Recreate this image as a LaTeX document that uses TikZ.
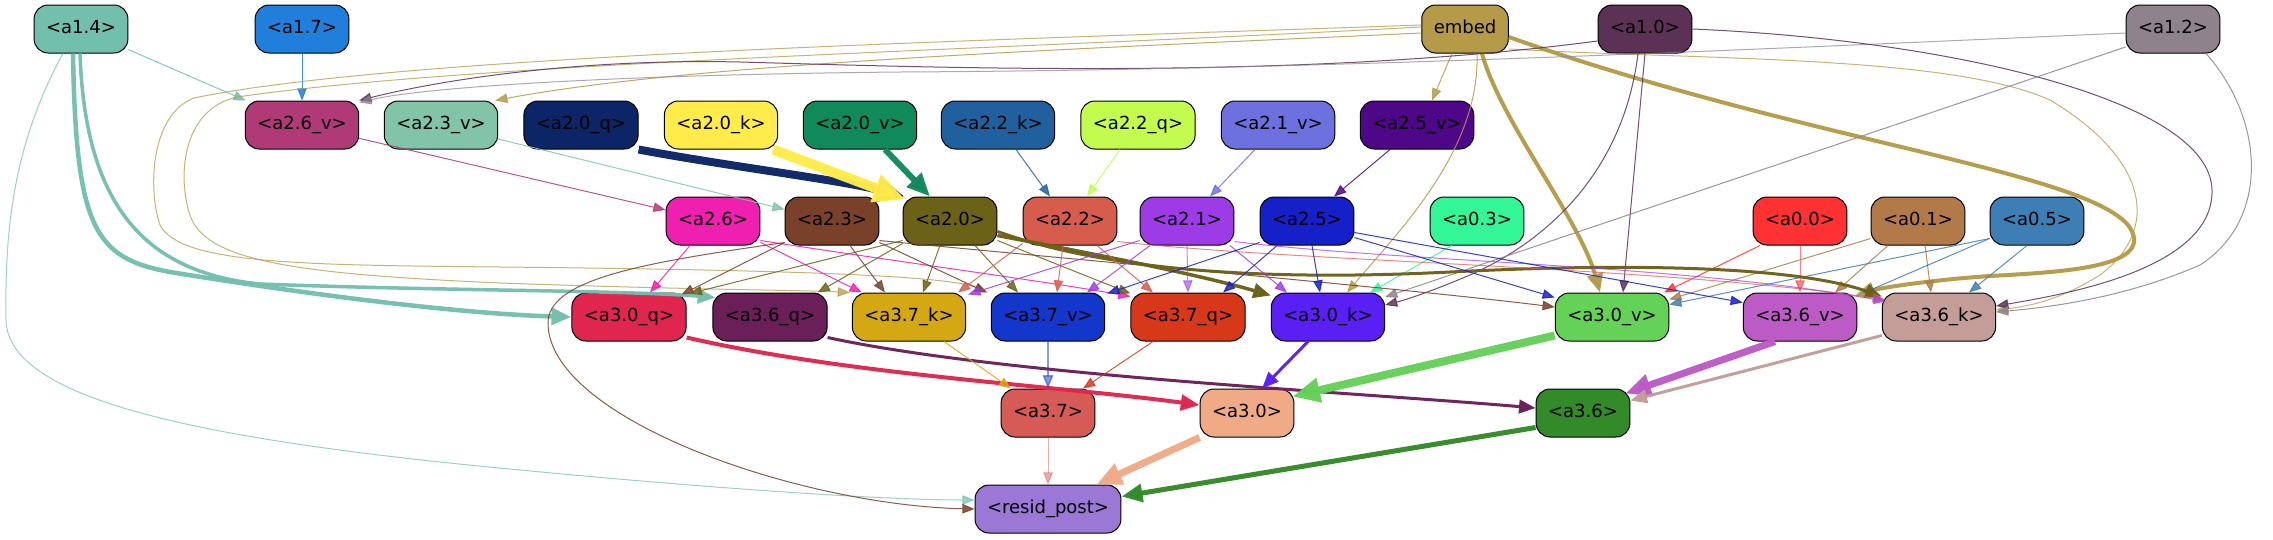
\documentclass[tikz,border=0pt]{standalone}
\usepackage{fontspec}
\setmainfont{DejaVu Sans}
\usetikzlibrary{arrows.meta}
\definecolor{kA14}{HTML}{72BFAE}
\definecolor{kA17}{HTML}{1F7FDA}
\definecolor{kEmb}{HTML}{B59B47}
\definecolor{kA10}{HTML}{5C3156}
\definecolor{kA12}{HTML}{8E828D}
\definecolor{kA26v}{HTML}{B03A77}
\definecolor{kA23v}{HTML}{82C4A8}
\definecolor{kA20q}{HTML}{0C2566}
\definecolor{kA20k}{HTML}{FFEC4A}
\definecolor{kA20v}{HTML}{108A5B}
\definecolor{kA22k}{HTML}{20609F}
\definecolor{kA22q}{HTML}{C3FC4F}
\definecolor{kA21v}{HTML}{6D71E0}
\definecolor{kA25v}{HTML}{4E0787}
\definecolor{kA26}{HTML}{EF1FAF}
\definecolor{kA23}{HTML}{79402A}
\definecolor{kA20}{HTML}{6B6117}
\definecolor{kA22}{HTML}{D65D4C}
\definecolor{kA21}{HTML}{9D3CE6}
\definecolor{kA25}{HTML}{1520C8}
\definecolor{kA03}{HTML}{33F796}
\definecolor{kA00}{HTML}{FE3133}
\definecolor{kA01}{HTML}{B27A49}
\definecolor{kA05}{HTML}{3D7EB5}
\definecolor{kA30q}{HTML}{E0264E}
\definecolor{kA36q}{HTML}{6A1F58}
\definecolor{kA37k}{HTML}{D4A813}
\definecolor{kA37v}{HTML}{1337CA}
\definecolor{kA37q}{HTML}{D7381A}
\definecolor{kA30k}{HTML}{5A1FF2}
\definecolor{kA30v}{HTML}{64D157}
\definecolor{kA36v}{HTML}{BC5AC6}
\definecolor{kA36k}{HTML}{C49C98}
\definecolor{kA37}{HTML}{D65A55}
\definecolor{kA30}{HTML}{F1AA86}
\definecolor{kA36}{HTML}{338A28}
\definecolor{kRes}{HTML}{9C78D6}
\tikzset{
  nd/.style={draw=black, line width=1pt, rounded corners=14pt, minimum height=48pt,
    inner xsep=12pt, inner ysep=0pt, text height=13pt, text depth=4pt,
    font=\fontsize{18}{21}\selectfont},
  ed/.style={line width=1pt, opacity=0.85, -{Triangle[length=10pt 2.2, width=7.5pt 2]}},
  tk/.style={opacity=0.97},
}
\begin{document}
\begin{tikzpicture}[x=1pt,y=-1pt]
\fill[white] (0,0) rectangle (2273,539);
\useasboundingbox (0,0) rectangle (2273,539);
% row 1
\node[nd, fill=kA14] (a14) at (81,29) {<a1.4>};
\node[nd, fill=kA17] (a17) at (302,29) {<a1.7>};
\node[nd, fill=kEmb] (emb) at (1465,29) {embed};
\node[nd, fill=kA10] (a10) at (1645,29) {<a1.0>};
\node[nd, fill=kA12] (a12) at (2173,29) {<a1.2>};
% row 2
\node[nd, fill=kA26v] (a26v) at (302,125) {<a2.6\_v>};
\node[nd, fill=kA23v] (a23v) at (441,125) {<a2.3\_v>};
\node[nd, fill=kA20q] (a20q) at (581,125) {<a2.0\_q>};
\node[nd, fill=kA20k] (a20k) at (721,125) {<a2.0\_k>};
\node[nd, fill=kA20v] (a20v) at (860,125) {<a2.0\_v>};
\node[nd, fill=kA22k] (a22k) at (998,125) {<a2.2\_k>};
\node[nd, fill=kA22q] (a22q) at (1138,125) {<a2.2\_q>};
\node[nd, fill=kA21v] (a21v) at (1278,125) {<a2.1\_v>};
\node[nd, fill=kA25v] (a25v) at (1417,125) {<a2.5\_v>};
% row 3
\node[nd, fill=kA26] (a26) at (713,221) {<a2.6>};
\node[nd, fill=kA23] (a23) at (832,221) {<a2.3>};
\node[nd, fill=kA20] (a20) at (950,221) {<a2.0>};
\node[nd, fill=kA22] (a22) at (1070,221) {<a2.2>};
\node[nd, fill=kA21] (a21) at (1187,221) {<a2.1>};
\node[nd, fill=kA25] (a25) at (1307,221) {<a2.5>};
\node[nd, fill=kA03] (a03) at (1477,221) {<a0.3>};
\node[nd, fill=kA00] (a00) at (1800,221) {<a0.0>};
\node[nd, fill=kA01] (a01) at (1918,221) {<a0.1>};
\node[nd, fill=kA05] (a05) at (2037,221) {<a0.5>};
% row 4
\node[nd, fill=kA30q] (a30q) at (629,317) {<a3.0\_q>};
\node[nd, fill=kA36q] (a36q) at (770,317) {<a3.6\_q>};
\node[nd, fill=kA37k] (a37k) at (909,317) {<a3.7\_k>};
\node[nd, fill=kA37v] (a37v) at (1048,317) {<a3.7\_v>};
\node[nd, fill=kA37q] (a37q) at (1188,317) {<a3.7\_q>};
\node[nd, fill=kA30k] (a30k) at (1328,317) {<a3.0\_k>};
\node[nd, fill=kA30v] (a30v) at (1612,317) {<a3.0\_v>};
\node[nd, fill=kA36v] (a36v) at (1800,317) {<a3.6\_v>};
\node[nd, fill=kA36k] (a36k) at (1939,317) {<a3.6\_k>};
% row 5
\node[nd, fill=kA37] (a37) at (1048,413) {<a3.7>};
\node[nd, fill=kA30] (a30) at (1247,413) {<a3.0>};
\node[nd, fill=kA36] (a36) at (1583,413) {<a3.6>};
% row 6
\node[nd, fill=kRes] (res) at (1048,509) {<resid\_post>};

% ---- edges from row 1
\draw[ed, kA14] (a14) -- (a26v);
\draw[ed, kA17] (a17) -- (a26v);
\draw[ed, tk, kA14, line width=4.5pt] ([xshift=-8pt]a14.south) .. controls (76,230) and (95,258) .. (170,272) .. controls (330,298) and (470,314) .. (a30q.west);
\draw[ed, tk, kA14, line width=3.5pt] ([xshift=-1pt]a14.south) .. controls (85,200) and (140,272) .. (260,284) .. controls (450,291) and (620,290) .. ([xshift=3pt,yshift=-5pt]a36q.north west);
\draw[ed, kA14, opacity=0.7] ([xshift=-18pt]a14.south) .. controls (10,150) and (5,240) .. (6,320) .. controls (8,400) and (200,440) .. (520,470) .. controls (750,492) and (900,500) .. ([yshift=9pt]res.west);
\draw[ed, kEmb] ([xshift=-13pt]emb.south) -- ([xshift=15pt]a25v.north);
\draw[ed, kEmb] ([yshift=-4pt]emb.west) .. controls (1100,48) and (700,62) .. ([xshift=-3pt]a23v.north east);
\draw[ed, kEmb, opacity=0.75] ([yshift=2pt]emb.west) .. controls (1000,50) and (480,62) .. (237,97) .. controls (180,110) and (178,180) .. (190,215) .. controls (205,262) and (300,274) .. (500,283) .. controls (700,290) and (800,290) .. ([xshift=-2pt]a37k.north west);
\draw[ed, kEmb, opacity=0.75] ([yshift=4pt]emb.west) .. controls (1000,40) and (400,55) .. (194,98) .. controls (150,115) and (148,190) .. (160,225) .. controls (180,264) and (300,265) .. (500,267) .. controls (800,270) and (950,276) .. ([xshift=-3pt]a37v.north west);
\draw[ed, tk, kEmb, line width=4pt] ([xshift=17pt]emb.south) .. controls (1500,120) and (1580,220) .. ([xshift=-12pt]a30v.north);
\draw[ed, tk, kEmb, line width=4pt] ([yshift=-8pt]emb.east) .. controls (1800,140) and (2080,170) .. (2128,225) .. controls (2160,268) and (2060,272) .. (1990,276) .. controls (1930,280) and (1880,288) .. ([xshift=-2pt,yshift=-3pt]a36v.north east);
\draw[ed, kEmb] ([xshift=12pt]emb.south) .. controls (1480,150) and (1400,230) .. ([xshift=19pt]a30k.north);
\draw[ed, kEmb, opacity=0.75] ([yshift=-20pt]emb.east) .. controls (1700,60) and (1950,55) .. (2050,100) .. controls (2150,160) and (2160,230) .. (2100,275) .. controls (2060,300) and (2030,306) .. ([yshift=7pt]a36k.east);
\draw[ed, kA10] ([yshift=-12pt]a10.west) .. controls (1300,80) and (950,68) .. (740,62) .. controls (560,58) and (420,85) .. (a26v.north east);
\draw[ed, kA12, opacity=0.7] ([yshift=-4pt]a12.west) .. controls (1700,52) and (1300,70) .. (900,72) .. controls (600,75) and (420,88) .. ([yshift=-2pt]a26v.north east);
\draw[ed, kA10] ([xshift=-7pt]a10.south) .. controls (1625,160) and (1560,235) .. (1470,275) .. controls (1430,292) and (1405,300) .. ([yshift=12pt]a30k.east);
\draw[ed, kA10] (a10.south) -- ([xshift=11pt]a30v.north);
\draw[ed, kA10] (a10.east) .. controls (1950,40) and (2210,100) .. (2212,190) .. controls (2214,270) and (2060,295) .. ([yshift=11pt]a36k.east);
\draw[ed, kA12] ([yshift=-18pt]a12.west) -- ([yshift=20pt]a30k.east);
\draw[ed, kA12] ([xshift=33pt]a12.south) .. controls (2265,120) and (2270,220) .. (2200,265) .. controls (2120,300) and (2040,308) .. ([yshift=5pt]a36k.east);
% ---- a0.x
\draw[ed, kA03] ([xshift=-25pt]a03.south) -- ([xshift=42pt]a30k.north);
\draw[ed, kA00] ([xshift=-40pt]a00.south) -- ([xshift=52pt]a30v.north);
\draw[ed, kA00, opacity=0.6] (a00.south) -- (a36v.north);
\draw[ed, kA01] ([yshift=7pt]a01.south west) -- ([yshift=-7pt]a30v.north east);
\draw[ed, kA01] ([xshift=-30pt]a01.south) -- ([xshift=35pt]a36v.north);
\draw[ed, kA01] ([xshift=7pt]a01.south) -- ([xshift=-8pt]a36k.north);
\draw[ed, kA05] ([yshift=7pt]a05.south west) -- ([yshift=-12pt]a30v.north east);
\draw[ed, kA05] ([yshift=7pt]a05.south west) -- ([xshift=5pt,yshift=-1pt]a36v.north east);
\draw[ed, kA05] ([xshift=-10pt]a05.south) -- ([xshift=30pt]a36k.north);
% ---- row 2 -> row 3
\draw[ed, kA26v] (a26v) -- (a26);
\draw[ed, kA23v] (a23v) -- (a23);
\draw[ed, tk, kA20q, line width=8pt] (a20q.south east) .. controls (720,165) and (840,180) .. ([xshift=2pt]a20.north west);
\draw[ed, tk, kA20k, line width=10pt] ([xshift=-5pt]a20k.south east) -- ([xshift=3pt,yshift=-3pt]a20.north west);
\draw[ed, tk, kA20v, line width=6pt] ([xshift=25pt]a20v.south) -- ([xshift=-20pt]a20.north);
\draw[ed, kA22k] ([xshift=18pt]a22k.south) -- ([xshift=-20pt]a22.north);
\draw[ed, kA22q] ([xshift=-18pt]a22q.south) -- ([xshift=17pt]a22.north);
\draw[ed, kA21v] ([xshift=-23pt]a21v.south) -- ([xshift=23pt]a21.north);
\draw[ed, kA25v] ([xshift=-27pt]a25v.south) -- ([xshift=27pt]a25.north);
% ---- row 3 -> row 4
\draw[ed, kA26] ([xshift=-23pt]a26.south) -- ([xshift=21pt]a30q.north);
\draw[ed, kA26] ([yshift=3pt]a26.south east) -- ([xshift=10pt]a37k.north west);
\draw[ed, kA26] ([yshift=5pt]a26.south east) .. controls (900,262) and (1050,282) .. ([yshift=-4pt]a37q.north west);
\draw[ed, kA23] ([yshift=3pt]a23.south west) -- ([xshift=-5pt,yshift=-2pt]a30q.north east);
\draw[ed, kA23] ([xshift=18pt]a23.south) -- ([xshift=-24pt]a37k.north);
\draw[ed, kA23] ([yshift=3pt]a23.south east) -- ([xshift=-4pt]a37v.north west);
\draw[ed, kA23] ([yshift=5pt]a23.south east) .. controls (1100,262) and (1400,288) .. ([yshift=10pt]a30v.west);
\draw[ed, kA23] ([yshift=3pt]a23.south west) .. controls (650,262) and (545,278) .. (548,325) .. controls (552,420) and (800,505) .. (res.west);
\draw[ed, kA20] ([yshift=5pt]a20.south west) -- ([xshift=3pt,yshift=-1pt]a30q.north east);
\draw[ed, kA20] ([yshift=2pt]a20.south west) -- ([xshift=-10pt]a36q.north east);
\draw[ed, kA20] ([xshift=-10pt]a20.south) -- ([xshift=14pt]a37k.north);
\draw[ed, kA20] ([xshift=25pt]a20.south) -- ([xshift=-30pt]a37v.north);
\draw[ed, kA20] ([yshift=5pt]a20.south east) -- ([yshift=-1pt]a37q.north west);
\draw[ed, tk, kA20, line width=3.5pt] ([yshift=10pt]a20.south east) .. controls (1100,255) and (1200,275) .. ([yshift=-3pt]a30k.north west);
\draw[ed, tk, kA20, line width=3pt] ([yshift=14pt]a20.south east) .. controls (1100,268) and (1250,282) .. (1450,272) .. controls (1650,262) and (1800,268) .. ([yshift=-4pt]a36k.north west);
\draw[ed, kA22] ([yshift=2pt]a22.south west) -- ([xshift=-8pt]a37k.north east);
\draw[ed, kA22] ([xshift=-7pt]a22.south) -- ([xshift=9pt]a37v.north);
\draw[ed, kA22] ([xshift=27pt]a22.south) -- ([xshift=-35pt]a37q.north);
\draw[ed, kA22, opacity=0.7] ([yshift=4pt]a22.south east) .. controls (1300,262) and (1650,266) .. ([xshift=3pt,yshift=-7pt]a36k.north west);
\draw[ed, kA21] ([yshift=5pt]a21.south west) -- ([xshift=2pt,yshift=-2pt]a37k.north east);
\draw[ed, kA21] ([xshift=-37pt]a21.south) -- ([xshift=39pt]a37v.north);
\draw[ed, kA21, opacity=0.6] (a21.south) -- (a37q.north);
\draw[ed, kA21] ([xshift=43pt]a21.south) -- ([xshift=-41pt]a30k.north);
\draw[ed, kA21, opacity=0.7] ([yshift=4pt]a21.south east) .. controls (1400,262) and (1680,264) .. ([xshift=4pt,yshift=-9pt]a36k.north west);
\draw[ed, kA25] ([yshift=3pt]a25.south west) -- ([xshift=2pt,yshift=-1pt]a37v.north east);
\draw[ed, kA25] ([xshift=-30pt]a25.south) -- ([xshift=35pt]a37q.north);
\draw[ed, kA25] ([xshift=5pt]a25.south) -- ([xshift=-8pt]a30k.north);
\draw[ed, kA25] ([yshift=8pt]a25.south east) -- ([yshift=-5pt]a30v.north west);
\draw[ed, kA25] ([yshift=13pt]a25.south east) -- ([yshift=-10pt]a36v.north west);
% ---- row 4 -> row 5
\draw[ed, tk, kA30q, line width=4pt] ([yshift=4pt]a30q.south east) .. controls (850,375) and (1050,385) .. ([yshift=8pt]a30.west);
\draw[ed, tk, kA36q, line width=3pt] ([yshift=4pt]a36q.south east) .. controls (1000,375) and (1350,392) .. ([yshift=5pt]a36.west);
\draw[ed, kA37k] ([xshift=35pt]a37k.south) -- ([xshift=-37pt]a37.north);
\draw[ed, kA37v, opacity=0.5, line width=1.5pt] (a37v) -- (a37);
\draw[ed, kA37q] ([xshift=-35pt]a37q.south) -- ([xshift=35pt]a37.north);
\draw[ed, tk, kA30k, line width=3pt] ([xshift=-20pt]a30k.south) -- ([xshift=15pt]a30.north);
\draw[ed, tk, kA30v, line width=8pt] ([yshift=6pt]a30v.south west) -- ([xshift=-2pt,yshift=-8pt]a30.north east);
\draw[ed, tk, kA36v, line width=7pt] ([xshift=-25pt]a36v.south) -- ([xshift=-5pt,yshift=-5pt]a36.north east);
\draw[ed, tk, kA36k, line width=3pt] ([yshift=6pt]a36k.south west) -- ([yshift=-12pt]a36.north east);
% ---- row 5 -> row 6
\draw[ed, kA37, opacity=0.5] (a37) -- (res);
\draw[ed, tk, kA30, line width=7pt] (a30.south west) -- ([xshift=-25pt]res.north east);
\draw[ed, tk, kA36, line width=5pt] ([yshift=10pt]a36.south west) -- ([yshift=-12pt]res.north east);
\end{tikzpicture}
\end{document}
